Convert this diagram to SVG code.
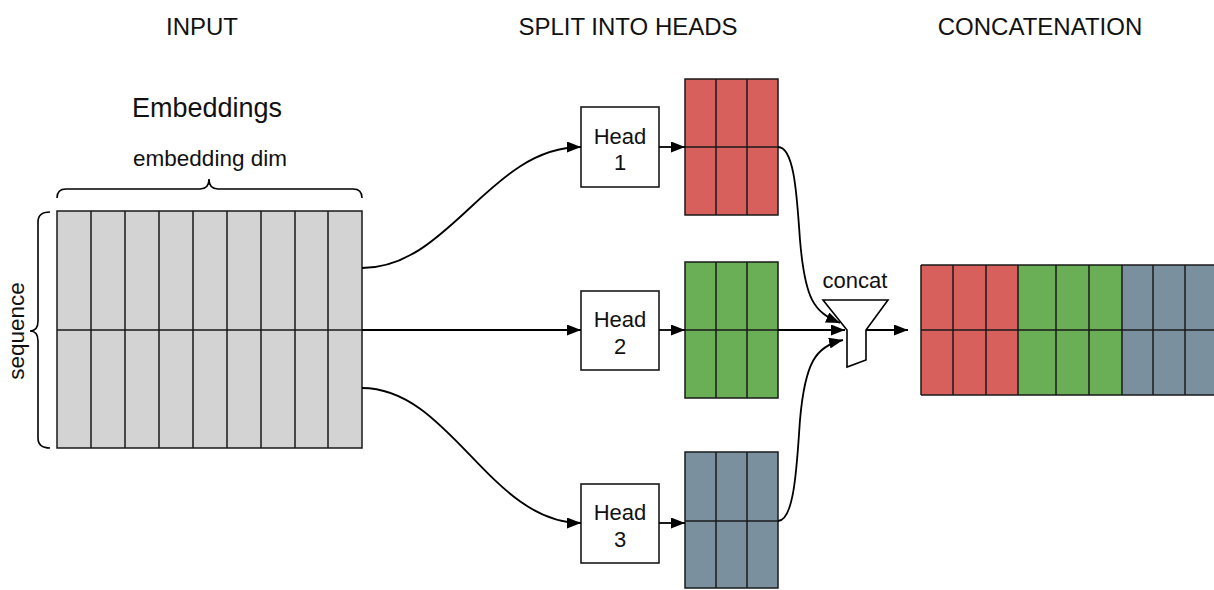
<svg xmlns="http://www.w3.org/2000/svg" width="1214" height="590" viewBox="0 0 1214 590">
  <style>
    text { font-family: "Liberation Sans", Arial, sans-serif; fill: #111; }
    .hdr { font-size: 24px; text-anchor: middle; }
    .lbl { font-size: 22px; text-anchor: middle; }
    .gray { fill: #d3d3d3; }
    .red { fill: #d75f5c; }
    .green { fill: #6aae55; }
    .blue { fill: #7b909f; }
    .grid { stroke: #1a1a1a; stroke-width: 1.5; fill: none; }
    .box { fill: #fff; stroke: #1a1a1a; stroke-width: 1.6; }
    .wire { fill: none; stroke: #000; stroke-width: 1.8; }
    .brace { fill: none; stroke: #000; stroke-width: 1.6; }
  </style>
  <defs>
    <marker id="arrow" viewBox="0 0 14 11" refX="14" refY="5.5" markerWidth="14" markerHeight="11" orient="auto" markerUnits="userSpaceOnUse">
      <path d="M0,0 L14,5.5 L0,11 z" fill="#000"/>
    </marker>
  </defs>

  <rect width="1214" height="590" fill="#fff"/>

  <!-- section titles -->
  <g id="titles">
    <text class="hdr" x="202" y="35">INPUT</text>
    <text class="hdr" x="628" y="35">SPLIT INTO HEADS</text>
    <text class="hdr" x="1040" y="35">CONCATENATION</text>
  </g>

  <!-- input embeddings matrix -->
  <g id="embeddings">
    <text x="207" y="117" style="font-size:27px;text-anchor:middle">Embeddings</text>
    <text x="210" y="166" style="font-size:22.5px;text-anchor:middle">embedding dim</text>
    <path class="brace" d="M57,198 Q57,189 66,189 L200,189 Q209,189 209,179 Q209,189 218,189 L353,189 Q362,189 362,198"/>
    <path class="brace" d="M50,212 Q38,212 38,222 L38,321 Q38,331 30,331 Q38,331 38,341 L38,438 Q38,448 50,448"/>
    <text transform="translate(24,331) rotate(-90)" style="font-size:22.5px;text-anchor:middle">sequence</text>
    <rect class="gray" x="57" y="211" width="305" height="237"/>
    <path class="grid" d="M57,211 H362 V448 H57 Z M57,330 H362 M91,211 V448 M125,211 V448 M159,211 V448 M193,211 V448 M227,211 V448 M261,211 V448 M295,211 V448 M328,211 V448"/>
  </g>

  <!-- attention heads -->
  <g id="head1">
    <rect class="box" x="581" y="107" width="78" height="80"/>
    <text class="lbl" x="620" y="144">Head</text>
    <text class="lbl" x="620" y="170">1</text>
  </g>
  <g id="head2">
    <rect class="box" x="581" y="291" width="78" height="79"/>
    <text class="lbl" x="620" y="327">Head</text>
    <text class="lbl" x="620" y="354">2</text>
  </g>
  <g id="head3">
    <rect class="box" x="581" y="484" width="78" height="79"/>
    <text class="lbl" x="620" y="520">Head</text>
    <text class="lbl" x="620" y="547">3</text>
  </g>

  <!-- per-head outputs -->
  <g id="out1">
    <rect class="red" x="685" y="79" width="93" height="136"/>
    <path class="grid" d="M685,79 H778 V215 H685 Z M685,147 H778 M716,79 V215 M747,79 V215"/>
  </g>
  <g id="out2">
    <rect class="green" x="685" y="262" width="93" height="136"/>
    <path class="grid" d="M685,262 H778 V398 H685 Z M685,330 H778 M716,262 V398 M747,262 V398"/>
  </g>
  <g id="out3">
    <rect class="blue" x="685" y="452" width="93" height="136"/>
    <path class="grid" d="M685,452 H778 V588 H685 Z M685,521 H778 M716,452 V588 M747,452 V588"/>
  </g>

  <!-- concat funnel -->
  <g id="concat">
    <text class="lbl" x="855" y="288">concat</text>
    <polygon points="823,300 888,300 866,330 866,360 847,367 847,330" fill="#fff" stroke="#000" stroke-width="1.6" stroke-linejoin="miter"/>
  </g>

  <!-- concatenated result -->
  <g id="result">
    <rect class="red" x="921" y="265" width="97" height="130"/>
    <rect class="green" x="1018" y="265" width="104" height="130"/>
    <rect class="blue" x="1122" y="265" width="98" height="130"/>
    <path class="grid" d="M921,265 H1220 M921,395 H1220 M921,330 H1220 M921,265 V395 M953,265 V395 M986,265 V395 M1018,265 V395 M1056,265 V395 M1089,265 V395 M1122,265 V395 M1153,265 V395 M1185,265 V395"/>
  </g>

  <!-- connectors -->
  <g id="connectors">
    <path class="wire" d="M362,268 C450,268 490,147 581,147" marker-end="url(#arrow)"/>
    <path class="wire" d="M362,330 H581" marker-end="url(#arrow)"/>
    <path class="wire" d="M362,388 C450,388 490,523 581,523" marker-end="url(#arrow)"/>
    <path class="wire" d="M659,147 H685" marker-end="url(#arrow)"/>
    <path class="wire" d="M659,330 H685" marker-end="url(#arrow)"/>
    <path class="wire" d="M659,523 H685" marker-end="url(#arrow)"/>
    <path class="wire" d="M778,147 C795,147 797,200 800,240 C805,300 814,312 840,323" marker-end="url(#arrow)"/>
    <path class="wire" d="M778,330 H845" marker-end="url(#arrow)"/>
    <path class="wire" d="M778,521 C795,521 797,460 800,420 C805,362 816,346 843,340" marker-end="url(#arrow)"/>
    <path class="wire" d="M866,330 H908" marker-end="url(#arrow)"/>
  </g>
</svg>
